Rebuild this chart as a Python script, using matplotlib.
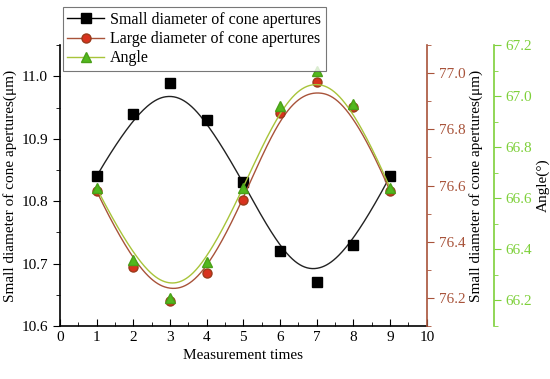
import numpy as np
import matplotlib.pyplot as plt
from matplotlib.ticker import MultipleLocator

plt.rcParams['font.family'] = ['Liberation Serif', 'DejaVu Serif']

# --- data ---
times = [1, 2, 3, 4, 5, 6, 7, 8, 9]
small_d = [10.84, 10.94, 10.99, 10.93, 10.83, 10.72, 10.67, 10.73, 10.84]
large_d = [76.58, 76.31, 76.19, 76.29, 76.55, 76.86, 76.97, 76.88, 76.58]
angle = [66.64, 66.36, 66.21, 66.35, 66.64, 66.96, 67.10, 66.97, 66.64]

C_RED_AX = '#A8533A'
C_RED_MK = '#D8321E'
C_GRN_AX = '#7ED03A'
C_GRN_LN = '#A8C43A'
C_GRN_MK = '#52B81E'


def bspline(x, y, deg=3, npts=400):
    # clamped uniform B-spline using the data points as control points
    P = np.column_stack([x, y]).astype(float)
    n = len(P)
    knots = np.concatenate([np.zeros(deg), np.arange(n - deg + 1), np.full(deg, n - deg)]).astype(float)
    t = np.linspace(0, n - deg, npts)
    t[-1] -= 1e-9
    # Cox-de Boor recursion
    N = np.zeros((npts, len(knots) - 1))
    for i in range(len(knots) - 1):
        N[:, i] = (t >= knots[i]) & (t < knots[i + 1])
    for k in range(1, deg + 1):
        Nk = np.zeros((npts, len(knots) - 1 - k))
        for i in range(len(knots) - 1 - k):
            a = knots[i + k] - knots[i]
            b = knots[i + k + 1] - knots[i + 1]
            term = 0
            if a > 0:
                term = term + (t - knots[i]) / a * N[:, i]
            if b > 0:
                term = term + (knots[i + k + 1] - t) / b * N[:, i + 1]
            Nk[:, i] = term
        N = Nk
    C = N @ P
    return C[:, 0], C[:, 1]


fig = plt.figure(figsize=(5.5, 3.79), dpi=100)
ax = fig.add_axes([0.109, 0.140, 0.667, 0.741])
ax2 = ax.twinx()
ax3 = ax.twinx()
ax3.spines['right'].set_position(('axes', 1.183))

# smoothed curves
xs, ys = bspline(times, small_d)
ax.plot(xs, ys, color='#222222', lw=1.0)
xs, ys = bspline(times, large_d)
ax2.plot(xs, ys, color=C_RED_AX, lw=1.0)
xs, ys = bspline(times, angle)
ax3.plot(xs, ys, color=C_GRN_LN, lw=1.0)

# markers
ax.plot(times, small_d, 's', color='black', ms=6.5, zorder=5)
ax2.plot(times, large_d, 'o', color=C_RED_MK, mec='#9A3A1A', ms=6.5, zorder=5)
ax3.plot(times, angle, '^', color=C_GRN_MK, mec='#4AA018', ms=7.5, zorder=6)

# axes ranges and ticks
ax.set_xlim(0, 10)
ax.set_ylim(10.6, 11.05)
ax2.set_ylim(76.1, 77.1)
ax3.set_ylim(66.1, 67.2)

ax.xaxis.set_major_locator(MultipleLocator(1))
ax.xaxis.set_minor_locator(MultipleLocator(0.5))
ax.yaxis.set_major_locator(MultipleLocator(0.1))
ax.yaxis.set_minor_locator(MultipleLocator(0.05))
ax.yaxis.set_major_formatter(plt.FormatStrFormatter('%.1f'))
ax2.set_yticks([76.2, 76.4, 76.6, 76.8, 77.0])
ax2.yaxis.set_minor_locator(MultipleLocator(0.1))
ax2.yaxis.set_major_formatter(plt.FormatStrFormatter('%.1f'))
ax3.set_yticks([66.2, 66.4, 66.6, 66.8, 67.0, 67.2])
ax3.yaxis.set_minor_locator(MultipleLocator(0.1))
ax3.yaxis.set_major_formatter(plt.FormatStrFormatter('%.1f'))

ax.tick_params(axis='x', which='both', direction='in', labelsize=11)
ax.tick_params(axis='x', which='major', length=5)
ax.tick_params(axis='x', which='minor', length=3)
ax.tick_params(axis='y', which='both', direction='out', labelsize=11)
ax.tick_params(axis='y', which='major', length=5)
ax.tick_params(axis='y', which='minor', length=3)

for a, c in ((ax2, C_RED_AX), (ax3, C_GRN_AX)):
    a.tick_params(axis='y', which='both', direction='out', colors=c, labelsize=11)
    a.tick_params(axis='y', which='major', length=5)
    a.tick_params(axis='y', which='minor', length=3)
    a.spines['right'].set_color(c)
    a.spines['right'].set_linewidth(1.2)
    for s in ('top', 'left', 'bottom'):
        a.spines[s].set_visible(False)

ax.spines['top'].set_visible(False)
ax.spines['right'].set_visible(False)
ax.spines['left'].set_linewidth(1.2)
ax.spines['bottom'].set_linewidth(1.2)

ax.set_xlabel('Measurement times', fontsize=11, labelpad=4)
ax.set_ylabel('Small diameter of cone apertures(μm)', fontsize=11, labelpad=3)
ax2.set_ylabel('Small diameter of cone apertures(μm)', fontsize=11, labelpad=3)
ax3.set_ylabel('Angle(°)', fontsize=11, labelpad=3)

# legend
h1, = ax.plot([], [], '-s', color='black', ms=6.5, lw=1.0)
h2, = ax.plot([], [], '-o', color=C_RED_AX, mfc=C_RED_MK, mec='#9A3A1A', ms=6.5, lw=1.0)
h3, = ax.plot([], [], '-^', color=C_GRN_LN, mfc=C_GRN_MK, mec='#4AA018', ms=7.5, lw=1.0)
leg = fig.legend([h1, h2, h3],
                 ['Small diameter of cone apertures',
                  'Large diameter of cone apertures',
                  'Angle'],
                 loc='upper left', bbox_to_anchor=(0.114, 0.981),
                 fontsize=11.5, frameon=True, fancybox=False,
                 handlelength=2.3, handletextpad=0.35, borderpad=0.3,
                 labelspacing=0.2, borderaxespad=0)
leg.get_frame().set_edgecolor('#555555')
leg.get_frame().set_linewidth(0.8)
leg.set_zorder(10)

fig.savefig('out.png', dpi=100)
